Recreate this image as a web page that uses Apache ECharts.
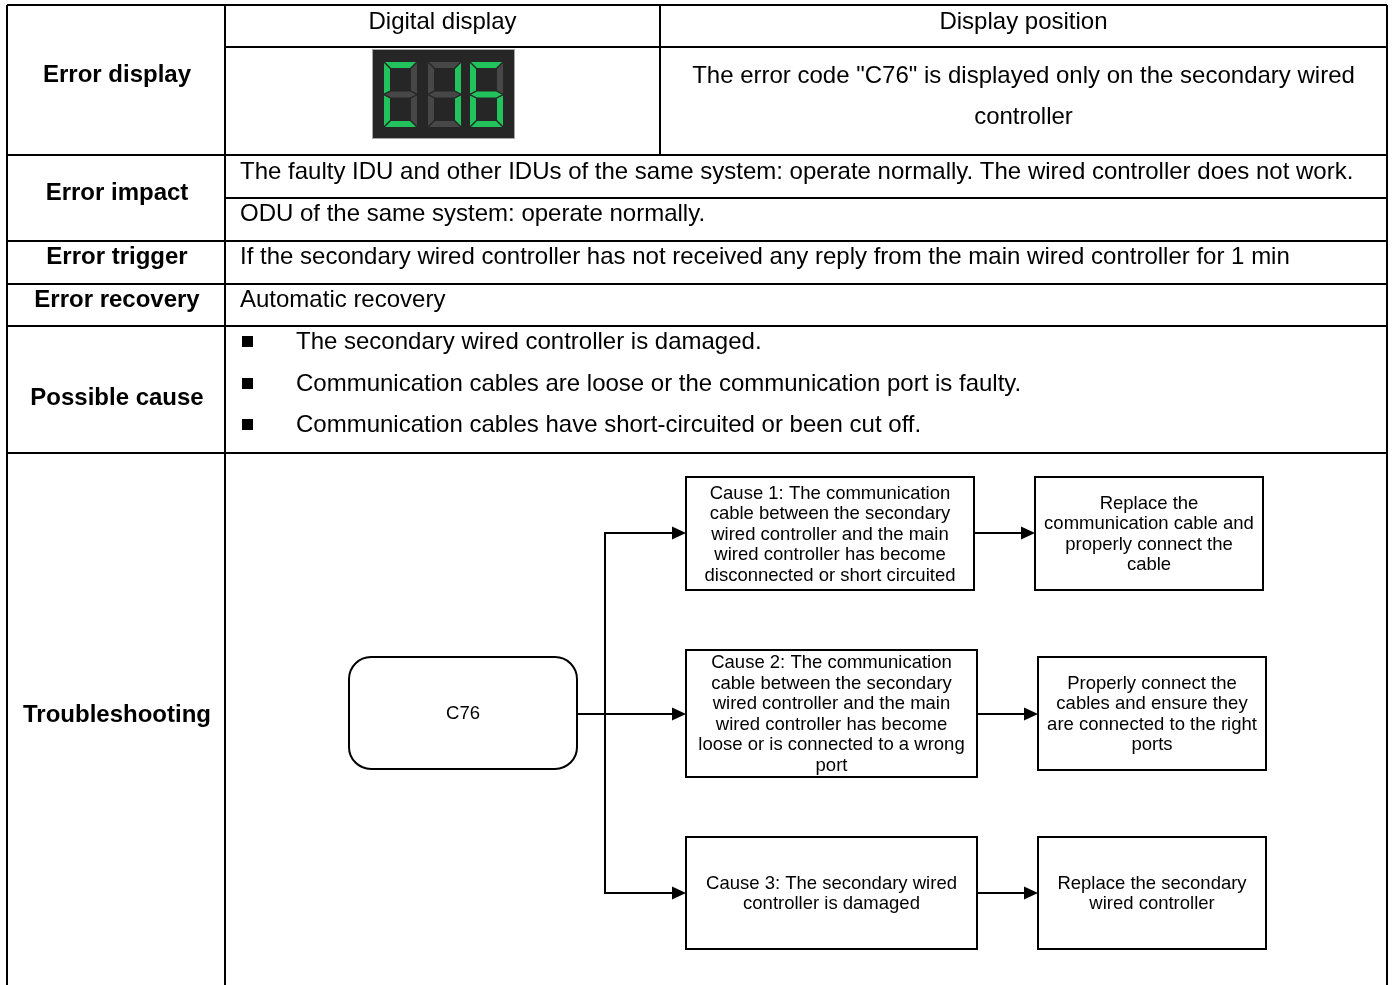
<!DOCTYPE html>
<html>
<head>
<meta charset="utf-8">
<script src="https://cdn.jsdelivr.net/npm/echarts@6/dist/echarts.min.js"></script>
<style>
html,body{margin:0;padding:0;background:#fff;}
#chart{width:1392px;height:985px;}
</style>
</head>
<body>
<div id="chart"></div>
<script>
// ---------------- DATA (texts of the table) ----------------
const rowLabels = ['Error display', 'Error impact', 'Error trigger', 'Error recovery', 'Possible cause', 'Troubleshooting'];
const displayHeaders = ['Digital display', 'Display position'];
const displayPositionText = 'The error code "C76" is displayed only on the secondary wired\ncontroller';
const impactLines = [
  'The faulty IDU and other IDUs of the same system: operate normally. The wired controller does not work.',
  'ODU of the same system: operate normally.'
];
const triggerText = 'If the secondary wired controller has not received any reply from the main wired controller for 1 min';
const recoveryText = 'Automatic recovery';
const causeBullets = [
  'The secondary wired controller is damaged.',
  'Communication cables are loose or the communication port is faulty.',
  'Communication cables have short-circuited or been cut off.'
];
// seven-segment digits shown on the display (lit segments per digit, as seen)
const displayDigits = ['C', '7', '6'];
const litSegments = [['a', 'd', 'e', 'f'], ['b', 'c'], ['a', 'c', 'd', 'e', 'f', 'g']];
// flowchart
const flowRoot = 'C76';
const flowCauses = [
  'Cause 1: The communication\ncable between the secondary\nwired controller and the main\nwired controller has become\ndisconnected or short circuited',
  'Cause 2: The communication\ncable between the secondary\nwired controller and the main\nwired controller has become\nloose or is connected to a wrong\nport',
  'Cause 3: The secondary wired\ncontroller is damaged'
];
const flowActions = [
  'Replace the\ncommunication cable and\nproperly connect the\ncable',
  'Properly connect the\ncables and ensure they\nare connected to the right\nports',
  'Replace the secondary\nwired controller'
];

// ---------------- LAYOUT ----------------
const FONT = '"Liberation Sans", Arial, sans-serif';
const X = {L: 7, C1: 225, C2: 660, R: 1387};
const Y = [5, 47, 155, 198, 241, 284, 326, 453, 990];
const BODY = 24;
const FLOW = 18.5;
const DY = 1;
const els = [];

function line(x1, y1, x2, y2, w) {
  els.push({type: 'line', shape: {x1, y1, x2, y2}, style: {stroke: '#000', lineWidth: w || 2}, z: 5});
}
function text(str, x, y, opt) {
  opt = opt || {};
  els.push({
    type: 'text', x, y: y + DY, z: 10,
    style: {
      text: str, fill: '#000', font: (opt.bold ? 'bold ' : '') + (opt.size || BODY) + 'px ' + FONT,
      textAlign: opt.align || 'left', textVerticalAlign: 'middle',
      lineHeight: opt.lh || undefined
    }
  });
}

// table grid
line(X.L, Y[0], X.R, Y[0]);
line(X.C1, Y[1], X.R, Y[1]);
line(X.L, Y[2], X.R, Y[2]);
line(X.C1, Y[3], X.R, Y[3]);
[4, 5, 6, 7].forEach(i => line(X.L, Y[i], X.R, Y[i]));
line(X.L, Y[0], X.L, Y[8]);
line(X.C1, Y[0], X.C1, Y[8]);
line(X.C2, Y[0], X.C2, Y[2]);
line(X.R, Y[0], X.R, Y[8]);

// row labels
const labelY = [74, 192, 256, 299, 397, 714];
rowLabels.forEach((s, i) => text(s, (X.L + X.C1) / 2 + 1, labelY[i], {bold: true, align: 'center'}));

// display header
text(displayHeaders[0], (X.C1 + X.C2) / 2, 21, {align: 'center'});
text(displayHeaders[1], (X.C2 + X.R) / 2, 21, {align: 'center'});
text(displayPositionText, (X.C2 + X.R) / 2, 95.5, {align: 'center', lh: 41});

// body texts
text(impactLines[0], 240, 171);
text(impactLines[1], 240, 213);
text(triggerText, 240, 256);
text(recoveryText, 240, 299);
const bulletY = [341, 383, 424];
causeBullets.forEach((s, i) => {
  els.push({type: 'rect', shape: {x: 242, y: bulletY[i] - 5, width: 11, height: 11}, style: {fill: '#000'}, z: 10});
  text(s, 296, bulletY[i]);
});

// seven-segment display
els.push({type: 'rect', shape: {x: 372.5, y: 49.5, width: 142, height: 89}, style: {fill: '#262626', stroke: '#a5a5a5', lineWidth: 1}, z: 6});
const digitX = [384, 428, 470];
function segPoly(seg, x0, y0, w, h, t) {
  const m = y0 + h / 2;
  switch (seg) {
    case 'a': return [[x0 + 1, y0], [x0 + w - 1, y0], [x0 + w - 1 - t, y0 + t], [x0 + 1 + t, y0 + t]];
    case 'd': return [[x0 + 1 + t, y0 + h - t], [x0 + w - 1 - t, y0 + h - t], [x0 + w - 1, y0 + h], [x0 + 1, y0 + h]];
    case 'g': return [[x0 + 1, m], [x0 + 1 + t, m - t / 2], [x0 + w - 1 - t, m - t / 2], [x0 + w - 1, m], [x0 + w - 1 - t, m + t / 2], [x0 + 1 + t, m + t / 2]];
    case 'f': return [[x0, y0 + 1], [x0 + t, y0 + 1 + t], [x0 + t, m - t / 2 - 1], [x0, m - 1]];
    case 'e': return [[x0, m + 1], [x0 + t, m + t / 2 + 1], [x0 + t, y0 + h - t - 1], [x0, y0 + h - 1]];
    case 'b': return [[x0 + w, y0 + 1], [x0 + w, m - 1], [x0 + w - t, m - t / 2 - 1], [x0 + w - t, y0 + t + 1]];
    case 'c': return [[x0 + w, m + 1], [x0 + w, y0 + h - 1], [x0 + w - t, y0 + h - t - 1], [x0 + w - t, m + t / 2 + 1]];
  }
}
displayDigits.forEach((d, i) => {
  ['a', 'b', 'c', 'd', 'e', 'f', 'g'].forEach(seg => {
    const on = litSegments[i].indexOf(seg) >= 0;
    els.push({
      type: 'polygon', shape: {points: segPoly(seg, digitX[i], 62, 33, 65, 6)},
      style: {fill: on ? '#22c25c' : '#474747'}, z: 7
    });
  });
});

// flowchart
const root = {x: 349, y: 657, w: 228, h: 112};
const causeBoxes = [
  {x: 686, y: 477, w: 288, h: 113},
  {x: 686, y: 650, w: 291, h: 127},
  {x: 686, y: 837, w: 291, h: 112}
];
const actionBoxes = [
  {x: 1035, y: 477, w: 228, h: 113},
  {x: 1038, y: 657, w: 228, h: 113},
  {x: 1038, y: 837, w: 228, h: 112}
];
const arrowY = [533, 714, 893];
const trunkX = 605;

function box(b, str, r) {
  els.push({type: 'rect', shape: {x: b.x, y: b.y, width: b.w, height: b.h, r: r || 0}, style: {fill: '#fff', stroke: '#000', lineWidth: 2}, z: 6});
  text(str, b.x + b.w / 2, b.y + b.h / 2, {align: 'center', size: FLOW, lh: 20.5});
}
function arrow(x1, y, x2) {
  line(x1, y, x2 - 13, y, 2);
  els.push({type: 'polygon', shape: {points: [[x2 - 14, y - 6.5], [x2, y], [x2 - 14, y + 6.5]]}, style: {fill: '#000'}, z: 7});
}

box(root, flowRoot, 22);
flowCauses.forEach((s, i) => box(causeBoxes[i], s));
flowActions.forEach((s, i) => box(actionBoxes[i], s));
line(root.x + root.w, arrowY[1], trunkX, arrowY[1], 2);
line(trunkX, arrowY[0] - 1, trunkX, arrowY[2] + 1, 2);
arrowY.forEach((y, i) => {
  arrow(trunkX, y, causeBoxes[i].x);
  arrow(causeBoxes[i].x + causeBoxes[i].w, y, actionBoxes[i].x);
});

const chart = echarts.init(document.getElementById('chart'), null, {renderer: 'canvas'});
chart.setOption({
  backgroundColor: '#ffffff',
  animation: false,
  graphic: {elements: els}
});
</script>
</body>
</html>
